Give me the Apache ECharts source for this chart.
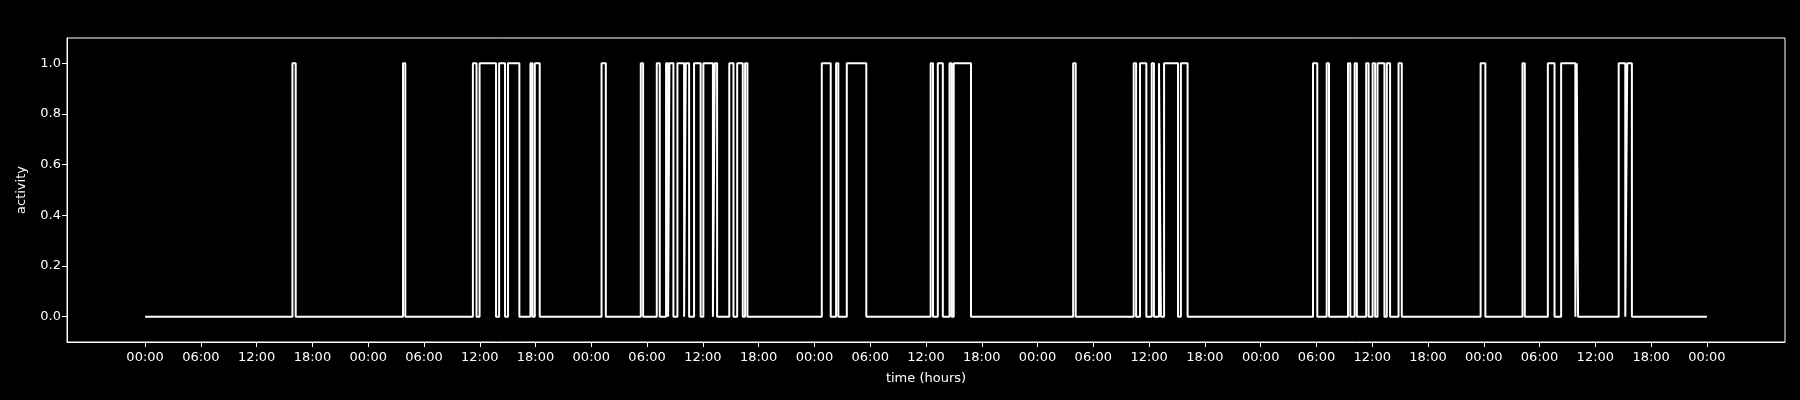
<!DOCTYPE html>
<html><head><meta charset="utf-8">
<script src="https://cdn.jsdelivr.net/npm/echarts@6/dist/echarts.min.js"></script>
<style>html,body{margin:0;padding:0;background:#000;}#c{width:1800px;height:400px;}</style>
</head><body><div id="c"></div>
<script>
// activity "on" periods, hours since first midnight
const onsets  = [15.85, 27.74, 35.26, 35.98, 38.08, 39.04, 41.45, 41.92, 49.10, 53.32, 55.04, 56.04, 56.40, 57.26, 58.16, 59.05, 60.05, 61.28, 62.84, 63.69, 64.54, 72.79, 74.33, 75.48, 84.50, 85.27, 86.53, 86.98, 99.83, 106.34, 107.02, 108.28, 109.06, 109.61, 111.42, 125.63, 127.10, 129.39, 130.11, 131.35, 132.04, 132.57, 133.57, 134.83, 143.66, 148.16, 150.89, 152.32, 154.00, 158.51, 159.43];
const offsets = [16.20, 27.99, 35.65, 37.75, 38.72, 40.26, 41.67, 42.45, 49.56, 53.57, 55.36, 56.26, 56.83, 57.98, 58.52, 59.76, 61.08, 61.53, 63.29, 64.29, 64.79, 73.75, 74.57, 77.58, 84.75, 85.81, 86.76, 88.84, 100.10, 106.60, 107.70, 108.52, 109.27, 111.11, 112.14, 126.09, 127.35, 129.64, 130.35, 131.61, 132.31, 133.31, 133.92, 135.18, 144.17, 148.41, 151.61, 153.85, 154.14, 159.22, 159.93];
const startHour = 0, endHour = 168;
const tickHours = [0,6,12,18,24,30,36,42,48,54,60,66,72,78,84,90,96,102,108,114,120,126,132,138,144,150,156,162,168];
const tickLabels = ['00:00','06:00','12:00','18:00','00:00','06:00','12:00','18:00','00:00','06:00','12:00','18:00','00:00','06:00','12:00','18:00','00:00','06:00','12:00','18:00','00:00','06:00','12:00','18:00','00:00','06:00','12:00','18:00','00:00'];
const yTicks = [0, 0.2, 0.4, 0.6, 0.8, 1.0];

const points = [[startHour, 0]];
for (let i = 0; i < onsets.length; i++) {
  points.push([onsets[i], 1]);
  points.push([offsets[i], 0]);
}
points.push([endHour, 0]);

const span = endHour - startHour;
const font = 'DejaVu Sans';
const chart = echarts.init(document.getElementById('c'));
chart.setOption({
  backgroundColor: '#000',
  animation: false,
  grid: {left: 67, top: 38, width: 1718, height: 304, show: true, borderColor: '#fff', borderWidth: 1, backgroundColor: 'transparent'},
  xAxis: {
    type: 'value', min: startHour - 0.05 * span, max: endHour + 0.05 * span,
    name: 'time (hours)', nameLocation: 'middle', nameGap: 30,
    nameTextStyle: {color: '#fff', fontSize: 13, fontFamily: font},
    axisLine: {show: true, onZero: false, lineStyle: {color: '#fff', width: 1}},
    axisTick: {show: true, length: 5, lineStyle: {color: '#fff', width: 1}, customValues: tickHours},
    axisLabel: {color: '#fff', fontSize: 13, fontFamily: font, margin: 9, customValues: tickHours,
      formatter: v => tickLabels[tickHours.indexOf(v)]},
    splitLine: {show: false}
  },
  yAxis: {
    type: 'value', min: -0.1, max: 1.1,
    name: 'activity', nameLocation: 'middle', nameGap: 39,
    nameTextStyle: {color: '#fff', fontSize: 13, fontFamily: font},
    axisLine: {show: true, onZero: false, lineStyle: {color: '#fff', width: 1}},
    axisTick: {show: true, length: 5, lineStyle: {color: '#fff', width: 1}, customValues: yTicks},
    axisLabel: {color: '#fff', fontSize: 13, fontFamily: font, margin: 6, customValues: yTicks,
      formatter: v => v.toFixed(1)},
    splitLine: {show: false}
  },
  series: [{
    type: 'line', step: 'end', data: points, showSymbol: false, symbol: 'none',
    lineStyle: {color: '#ffffff', width: 2}, clip: true
  }]
});
</script></body></html>
